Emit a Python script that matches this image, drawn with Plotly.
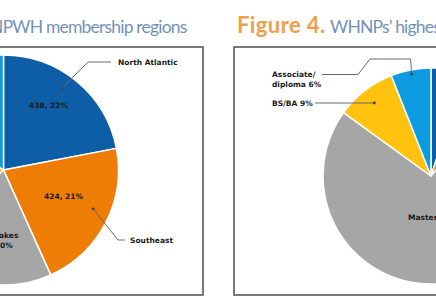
import math
import plotly.graph_objects as go

# ---------------- data ----------------
region_names = ["North Atlantic", "Southeast", "Great Lakes", "West", "Midwest"]
region_counts = [438, 424, 400, 420, 310]
region_pcts = [22, 21, 20, 21, 16]

degree_names = ["Doctorate", "Post-master's", "Master's", "BS/BA", "Associate/diploma"]
degree_pcts = [5, 6, 74, 9, 6]

slice_colors = ["#0d5ea6", "#ee7d06", "#a6a6a6", "#fec20f", "#0c9ae0"]

# ---------------- geometry (page pixels) ----------------
OFF = 200          # part of the figure hidden to the left of the window
W, H = 800, 300

LCX, LCY, LR = 3.5, 170, 115
RCX, RCY, RR = 431, 176, 108


def dom(cx, cy, r):
    return dict(x=[(cx - r + OFF) / W, (cx + r + OFF) / W],
                y=[1 - (cy + r) / H, 1 - (cy - r) / H])


def mid_angle(values, i, shift=0.0):
    tot = float(sum(values))
    return (sum(values[:i]) + values[i] / 2.0) / tot * 2 * math.pi + math.radians(shift)


def slice_pt(values, i, cx, cy, r, frac, shift=0.0):
    a = mid_angle(values, i, shift)
    return cx + frac * r * math.sin(a), cy - frac * r * math.cos(a)


def ray_at_y(values, i, cx, cy, y):
    a = mid_angle(values, i)
    t = (cy - y) / math.cos(a)
    return cx + t * math.sin(a), y


LBL_FONT = dict(family="DejaVu Sans", size=7.5, color="#1a1a1a", weight="bold")

fig = go.Figure()
fig.add_trace(go.Scatter(x=[-OFF, W - OFF], y=[0, H], mode="none",
                         showlegend=False, hoverinfo="skip"))
for labels, values, cx, cy, r in [(region_names, region_counts, LCX, LCY, LR),
                                  (degree_names, degree_pcts, RCX, RCY, RR)]:
    fig.add_trace(go.Pie(
        labels=labels, values=values, textinfo="none",
        sort=False, direction="clockwise", rotation=0,
        marker=dict(colors=slice_colors, line=dict(color="white", width=1.5)),
        domain=dom(cx, cy, r), showlegend=False, hoverinfo="label+value+percent"))

shapes = []
# frames
for x0, x1 in [(-180, 203), (234, 640)]:
    shapes.append(dict(type="rect", xref="x", yref="y", x0=x0, x1=x1, y0=47, y1=295,
                       line=dict(color="#4d4d4d", width=1.5), layer="above"))

LEAD = dict(color="#6b6b6b", width=1)


def leader(pts):
    d = "M " + " L ".join(f"{x:.1f},{y:.1f}" for x, y in pts)
    shapes.append(dict(type="path", xref="x", yref="y", path=d, line=LEAD, layer="above"))
    x, y = pts[-1]
    shapes.append(dict(type="circle", xref="x", yref="y", x0=x - 1.4, x1=x + 1.4,
                       y0=y - 1.4, y1=y + 1.4, fillcolor="#444", line=dict(width=0),
                       layer="above"))


na = slice_pt(region_counts, 0, LCX, LCY, LR, 0.875, -4)
se = slice_pt(region_counts, 1, LCX, LCY, LR, 0.85, -4)
asd = slice_pt(degree_pcts, 4, RCX, RCY, RR, 0.96)
bs = ray_at_y(degree_pcts, 3, RCX, RCY, 103)

leader([(111, 62), (88, 62), na])
leader([(125, 240), (118, 240), se])
leader([(322, 74.5), (358, 74.5), (370, 59), (asd[0] - 1, 59), asd])
leader([(315, 103), bs])

ann = []
# labels inside the slices
left_frac = [0.685, 0.57, 0.62, 0.6, 0.6]
for i, (n, c, p) in enumerate(zip(region_names, region_counts, region_pcts)):
    t = f"{c}, {p}%" if i < 2 else f"{n}<br>{c}, {p}%"
    x, y = slice_pt(region_counts, i, LCX, LCY, LR, left_frac[i], -4)
    ann.append(dict(x=x, y=y, text=t, xanchor="center", yanchor="middle", font=LBL_FONT))
x, y = slice_pt(degree_pcts, 2, RCX, RCY, RR, 0.39)
ann.append(dict(x=x, y=y, text=f"{degree_names[2]} {degree_pcts[2]}%",
                xanchor="center", yanchor="middle", font=LBL_FONT))

# labels outside with leaders
ann.append(dict(x=116, y=62, text=region_names[0], xanchor="left", yanchor="middle",
                font=LBL_FONT))
ann.append(dict(x=128, y=240, text=region_names[1], xanchor="left", yanchor="middle",
                font=LBL_FONT))
ann.append(dict(x=270, y=79.5, text=f"Associate/<br>diploma {degree_pcts[4]}%",
                xanchor="left", yanchor="middle", align="left", font=LBL_FONT))
ann.append(dict(x=270, y=103, text=f"{degree_names[3]} {degree_pcts[3]}%",
                xanchor="left", yanchor="middle", font=LBL_FONT))

# titles
FIG_SPAN = "<span style='color:#f0a04b;font-weight:bold;font-size:22px;letter-spacing:0.4px'>"
BODY_SPAN = "<span style='letter-spacing:-0.8px'>"
ann.append(dict(x=189, y=24,
                text=FIG_SPAN + "Figure 3.</span> " + BODY_SPAN + "NPWH membership regions</span>",
                xanchor="right", yanchor="middle",
                font=dict(family="Lato", size=17.5, color="#7292ba")))
ann.append(dict(x=235, y=24,
                text=FIG_SPAN + "Figure 4.</span> " + BODY_SPAN + "WHNPs’ highest degree</span>",
                xanchor="left", yanchor="middle",
                font=dict(family="Lato", size=17.5, color="#7292ba")))
for a in ann:
    a.update(xref="x", yref="y", showarrow=False)

fig.update_layout(
    width=W, height=H, margin=dict(l=0, r=0, t=0, b=0),
    paper_bgcolor="white", plot_bgcolor="white",
    xaxis=dict(range=[-OFF, W - OFF], visible=False, fixedrange=True),
    yaxis=dict(range=[H, 0], visible=False, fixedrange=True),
    shapes=shapes, annotations=ann, showlegend=False,
)

post = ("document.documentElement.style.overflow='hidden';"
        "document.body.style.margin='0';document.body.style.overflow='hidden';"
        "var d=document.getElementById('{plot_id}');"
        "d.style.marginLeft='-" + str(OFF) + "px';")

fig.write_html("out.html", post_script=post, config={"displayModeBar": False})
